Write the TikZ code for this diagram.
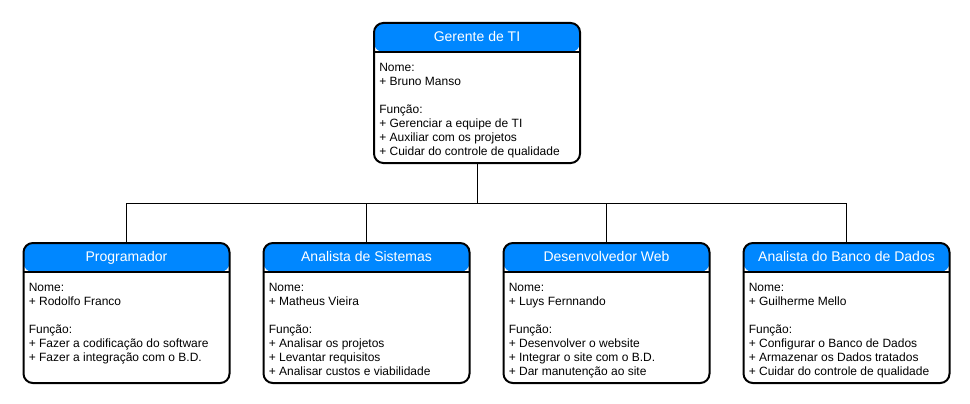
\documentclass[tikz,border=0pt]{standalone}
\usepackage{fontspec}
\setmainfont{Liberation Sans}
\usetikzlibrary{positioning}
\definecolor{hdrblue}{RGB}{0,135,255}
\tikzset{
    orgbox/.style={draw, line width=1.5pt, rounded corners=7pt, fill=white, inner sep=0pt,
        minimum width=154.5pt, minimum height=105pt,
        path picture={
            \fill[hdrblue] (path picture bounding box.north west) rectangle ([yshift=-21.75pt]path picture bounding box.north east);
            \draw[line width=1.1pt] ([yshift=-21.75pt]path picture bounding box.north west) -- ([yshift=-21.75pt]path picture bounding box.north east);
        }},
    orgtitle/.style={text=white, font=\fontsize{10.5pt}{12pt}\selectfont, text height=7.6pt, text depth=2.2pt, inner sep=0pt},
    orgtext/.style={align=left, anchor=north west, font=\fontsize{9pt}{10.5pt}\selectfont, inner sep=0pt},
    link/.style={line width=0.75pt}
}
\newcommand{\cargo}[4]{%
    \node[orgbox] (#1) at (#2) {};
    \node[orgtitle] (#1-t) at ([yshift=-12.2pt]#1.north) {#3};
    \node[orgtext] (#1-b) at ([xshift=4.5pt,yshift=-30.8pt]#1.north west) {#4};
}

\begin{document}
\begin{tikzpicture}[x=0.75pt, y=-0.75pt]
    \useasboundingbox (0,0) rectangle (970,403);

    \cargo{ger}{477,93}{Gerente de TI}{Nome:\\+ Bruno Manso\\[10.5pt]Função:\\+ Gerenciar a equipe de TI\\+ Auxiliar com os projetos\\+ Cuidar do controle de qualidade}
    \cargo{prog}{126.5,313}{Programador}{Nome:\\+ Rodolfo Franco\\[10.5pt]Função:\\+ Fazer a codificação do software\\+ Fazer a integração com o B.D.}
    \cargo{sis}{366.5,313}{Analista de Sistemas}{Nome:\\+ Matheus Vieira\\[10.5pt]Função:\\+ Analisar os projetos\\+ Levantar requisitos\\+ Analisar custos e viabilidade}
    \cargo{web}{606.5,313}{Desenvolvedor Web}{Nome:\\+ Luys Fernnando\\[10.5pt]Função:\\+ Desenvolver o website\\+ Integrar o site com o B.D.\\+ Dar manutenção ao site}
    \cargo{bd}{846.5,313}{Analista do Banco de Dados}{Nome:\\+ Guilherme Mello\\[10.5pt]Função:\\+ Configurar o Banco de Dados\\+ Armazenar os Dados tratados\\+ Cuidar do controle de qualidade}

    \coordinate (bus) at (477,203);
    \draw[link] (ger.south) -- (bus);
    \foreach \n in {prog, sis, web, bd}
        \draw[link] (bus) -| (\n.north);
\end{tikzpicture}
\end{document}
